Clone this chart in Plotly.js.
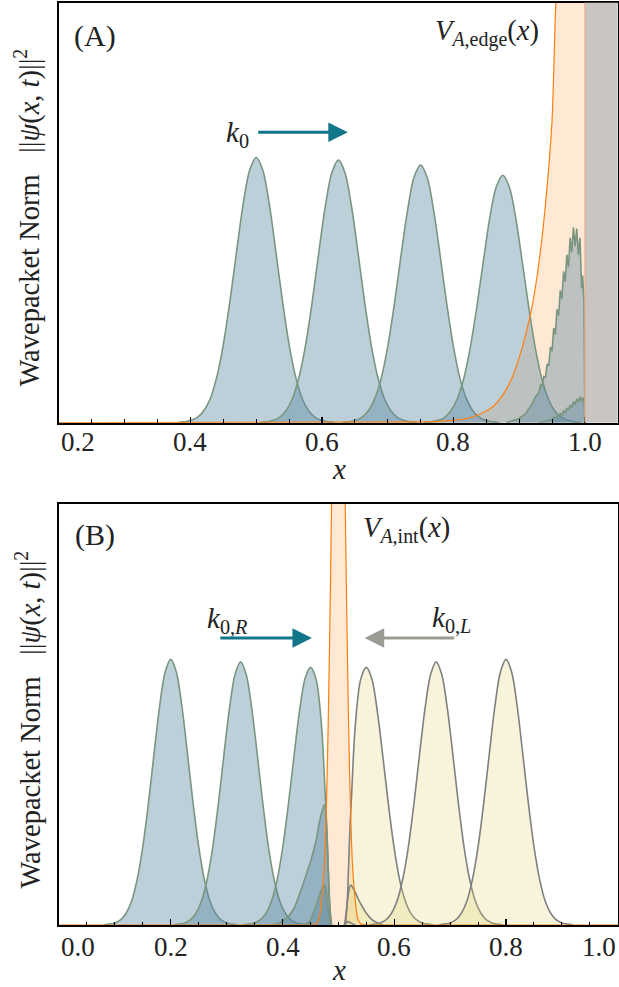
<!DOCTYPE html>
<html>
<head>
<meta charset="utf-8">
<script src="https://cdn.plot.ly/plotly-3.0.1.min.js"></script>
<style>html,body{margin:0;padding:0;background:#fff;}#chart{width:619px;height:987px;}</style>
</head>
<body>
<div id="chart"></div>
<script>
// ---------- Panel A data (x, |psi|^2 in plot-height units) ----------
const a1_x = [0.38,0.39,0.40,0.41,0.42,0.43,0.44,0.45,0.46,0.47,0.48,0.49,0.50,0.51,0.52,0.53,0.54,0.55,0.56,0.57,0.58,0.59,0.60,0.61,0.62];
const a1_y = [0,0.002,0.005,0.012,0.028,0.057,0.109,0.186,0.289,0.406,0.519,0.601,0.631,0.601,0.519,0.406,0.289,0.186,0.109,0.057,0.028,0.012,0.005,0.002,0];
const a2_x = [0.505,0.515,0.525,0.535,0.545,0.555,0.565,0.575,0.585,0.595,0.605,0.615,0.625,0.635,0.645,0.655,0.665,0.675,0.685,0.695,0.705,0.715,0.725,0.735,0.745];
const a2_y = [0,0.002,0.005,0.012,0.028,0.057,0.108,0.184,0.286,0.403,0.514,0.595,0.625,0.595,0.514,0.403,0.286,0.184,0.108,0.057,0.028,0.012,0.005,0.002,0];
const a3_x = [0.63,0.64,0.65,0.66,0.67,0.68,0.69,0.70,0.71,0.72,0.73,0.74,0.75,0.76,0.77,0.78,0.79,0.80,0.81,0.82,0.83,0.84,0.85,0.86,0.87];
const a3_y = [0,0.002,0.005,0.012,0.027,0.056,0.105,0.181,0.281,0.395,0.504,0.584,0.613,0.584,0.504,0.395,0.281,0.181,0.105,0.056,0.027,0.012,0.005,0.002,0];
const a4_x = [0.755,0.765,0.775,0.785,0.795,0.805,0.815,0.825,0.835,0.845,0.855,0.865,0.875,0.885,0.895,0.905,0.915,0.925,0.935,0.945,0.955,0.965,0.975,0.985,0.995];
const a4_y = [0,0.002,0.005,0.011,0.026,0.054,0.101,0.174,0.270,0.379,0.485,0.561,0.589,0.561,0.485,0.379,0.270,0.174,0.101,0.054,0.026,0.012,0.006,0.002,0];
// reflected packet at the wall (oscillating)
const a5_x = [0.880,0.890,0.900,0.905,0.910,0.915,0.920,0.925,0.930,0.9325,0.935,0.9375,0.940,0.9425,0.945,0.9475,0.950,0.9525,0.955,0.9575,0.960,0.9625,0.965,0.9675,0.970,0.9725,0.975,0.9775,0.980,0.9825,0.985,0.9875,0.990,0.9925,0.995,0.9965,0.9985,1.000];
const a5_y = [0,0.005,0.010,0.016,0.022,0.034,0.045,0.062,0.072,0.090,0.088,0.110,0.108,0.140,0.135,0.180,0.170,0.225,0.210,0.270,0.255,0.315,0.295,0.360,0.335,0.400,0.370,0.440,0.405,0.465,0.420,0.462,0.400,0.440,0.320,0.350,0.290,0];
const a6_x = [0.930,0.940,0.945,0.950,0.9525,0.955,0.9575,0.960,0.9625,0.965,0.9675,0.970,0.9725,0.975,0.9775,0.980,0.9825,0.985,0.9875,0.990,0.9925,0.995,0.9975,0.999,1.000];
const a6_y = [0,0.003,0.006,0.008,0.013,0.011,0.017,0.014,0.022,0.019,0.028,0.024,0.035,0.030,0.042,0.036,0.050,0.043,0.057,0.048,0.062,0.052,0.060,0.040,0];
// edge potential V_A,edge(x)
const vA_x = [0.20,0.76,0.78,0.80,0.82,0.84,0.86,0.87,0.88,0.89,0.90,0.91,0.92,0.93,0.94,0.95,0.955,0.96,0.97,0.98,1.00];
const vA_y = [0,0.002,0.003,0.006,0.010,0.020,0.038,0.055,0.078,0.110,0.155,0.210,0.280,0.380,0.520,0.720,0.970,1.150,1.450,2.000,3.800];

// ---------- Panel B data ----------
const b1_x = [0.08,0.09,0.10,0.11,0.12,0.13,0.14,0.15,0.16,0.17,0.18,0.19,0.20,0.21,0.22,0.23,0.24,0.25,0.26,0.27,0.28,0.29,0.30,0.31,0.32];
const b1_y = [0,0.002,0.005,0.012,0.028,0.057,0.109,0.186,0.289,0.406,0.519,0.601,0.631,0.601,0.519,0.406,0.289,0.186,0.109,0.057,0.028,0.012,0.005,0.002,0];
const b2_x = [0.205,0.215,0.225,0.235,0.245,0.255,0.265,0.275,0.285,0.295,0.305,0.315,0.325,0.335,0.345,0.355,0.365,0.375,0.385,0.395,0.405,0.415,0.425,0.435,0.445];
const b2_y = [0,0.002,0.005,0.012,0.028,0.057,0.108,0.184,0.286,0.403,0.514,0.595,0.625,0.595,0.514,0.403,0.286,0.184,0.108,0.057,0.028,0.012,0.005,0.002,0];
const b3_x = [0.33,0.34,0.35,0.36,0.37,0.38,0.39,0.40,0.41,0.42,0.43,0.44,0.45,0.46,0.47,0.476,0.479,0.482,0.484,0.487];
const b3_y = [0,0.002,0.005,0.012,0.027,0.056,0.105,0.181,0.281,0.395,0.504,0.584,0.612,0.584,0.470,0.320,0.240,0.130,0.060,0];
const b4_x = [0.38,0.39,0.40,0.41,0.42,0.43,0.44,0.45,0.46,0.467,0.4745,0.478,0.4805,0.483,0.4855,0.488];
const b4_y = [0,0.003,0.010,0.020,0.038,0.072,0.110,0.150,0.200,0.250,0.285,0.250,0.180,0.090,0.030,0];
const b5_x = [0.44,0.45,0.455,0.46,0.465,0.47,0.4757,0.479,0.482,0.485,0.487];
const b5_y = [0,0.012,0.028,0.045,0.065,0.085,0.095,0.070,0.035,0.008,0];
const y1_x = [0.513,0.516,0.518,0.521,0.524,0.53,0.54,0.55,0.56,0.57,0.58,0.59,0.60,0.61,0.62,0.63,0.64,0.65,0.66,0.67];
const y1_y = [0,0.060,0.130,0.240,0.320,0.470,0.584,0.612,0.584,0.504,0.395,0.281,0.181,0.105,0.056,0.027,0.012,0.005,0.002,0];
const y2_x = [0.555,0.565,0.575,0.585,0.595,0.605,0.615,0.625,0.635,0.645,0.655,0.665,0.675,0.685,0.695,0.705,0.715,0.725,0.735,0.745,0.755,0.765,0.775,0.785,0.795];
const y2_y = [0,0.002,0.005,0.012,0.028,0.057,0.108,0.184,0.286,0.403,0.514,0.595,0.625,0.595,0.514,0.403,0.286,0.184,0.108,0.057,0.028,0.012,0.005,0.002,0];
const y3_x = [0.68,0.69,0.70,0.71,0.72,0.73,0.74,0.75,0.76,0.77,0.78,0.79,0.80,0.81,0.82,0.83,0.84,0.85,0.86,0.87,0.88,0.89,0.90,0.91,0.92];
const y3_y = [0,0.002,0.005,0.012,0.028,0.057,0.109,0.186,0.289,0.406,0.519,0.601,0.631,0.601,0.519,0.406,0.289,0.186,0.109,0.057,0.028,0.012,0.005,0.002,0];
const y4_x = [0.511,0.514,0.517,0.52,0.5224,0.526,0.53,0.535,0.54,0.55,0.56,0.57,0.58];
const y4_y = [0,0.030,0.065,0.090,0.095,0.088,0.078,0.063,0.050,0.028,0.013,0.005,0];
const y5_x = [0.51,0.514,0.5175,0.521,0.525,0.53];
const y5_y = [0,0.005,0.008,0.006,0.003,0];
// interior barrier V_A,int(x)
const vB_x = [0.00,0.44,0.455,0.46,0.465,0.47,0.475,0.478,0.48,0.482,0.485,0.4878,0.49,0.495,0.50,0.505,0.51,0.5122,0.515,0.518,0.52,0.522,0.525,0.53,0.535,0.54,0.545,0.56,1.00];
const vB_y = [0,0,0.0005,0.003,0.013,0.060,0.148,0.260,0.365,0.495,0.737,1.000,1.218,1.646,1.820,1.646,1.218,1.000,0.737,0.495,0.365,0.260,0.148,0.060,0.013,0.003,0.0005,0,0];

// tick values / labels
const tickA = [0.2,0.4,0.6,0.8,1.0];
const tickB = [0.0,0.2,0.4,0.6,0.8,1.0];

// ---------- styling ----------
const FONT = 'Liberation Serif';
const TXT = '#222';
const blueFill = 'rgba(89,136,161,0.40)';
const greenLine = 'rgb(122,150,128)';
const yelFill = 'rgba(225,210,110,0.25)';
const grayLine = 'rgb(128,128,128)';
const orange = 'rgb(255,127,14)';

function pk(x, y, xa, ya, fill, line, shape) {
  return {x: x, y: y, xaxis: xa, yaxis: ya, type: 'scatter', mode: 'lines',
    fill: 'tozeroy', fillcolor: fill,
    line: {color: line, width: 1.6, shape: shape || 'spline', smoothing: 0.9},
    hoverinfo: 'skip'};
}
function pot(x, y, xa, ya, alpha, withLine) {
  return {x: x, y: y, xaxis: xa, yaxis: ya, type: 'scatter', mode: 'lines',
    fill: withLine ? 'none' : 'tozeroy', fillcolor: 'rgba(255,127,14,' + alpha + ')',
    line: {color: withLine ? orange : 'rgba(0,0,0,0)', width: withLine ? 1.2 : 0, shape: 'spline', smoothing: 0.7},
    hoverinfo: 'skip'};
}

const data = [
  pot(vA_x, vA_y, 'x', 'y', 0.18, false),
  pk(a1_x, a1_y, 'x', 'y', blueFill, greenLine),
  pk(a2_x, a2_y, 'x', 'y', blueFill, greenLine),
  pk(a3_x, a3_y, 'x', 'y', blueFill, greenLine),
  pk(a4_x, a4_y, 'x', 'y', blueFill, greenLine),
  pk(a5_x, a5_y, 'x', 'y', blueFill, greenLine, 'linear'),
  pk(a6_x, a6_y, 'x', 'y', blueFill, greenLine, 'linear'),
  pot(vA_x, vA_y, 'x', 'y', 0, true),

  pot(vB_x, vB_y, 'x2', 'y2', 0.18, false),
  pk(b1_x, b1_y, 'x2', 'y2', blueFill, greenLine),
  pk(b2_x, b2_y, 'x2', 'y2', blueFill, greenLine),
  pk(b3_x, b3_y, 'x2', 'y2', blueFill, greenLine),
  pk(b4_x, b4_y, 'x2', 'y2', blueFill, greenLine),
  pk(b5_x, b5_y, 'x2', 'y2', blueFill, greenLine),
  pk(y1_x, y1_y, 'x2', 'y2', yelFill, grayLine),
  pk(y2_x, y2_y, 'x2', 'y2', yelFill, grayLine),
  pk(y3_x, y3_y, 'x2', 'y2', yelFill, grayLine),
  pk(y4_x, y4_y, 'x2', 'y2', yelFill, grayLine),
  pk(y5_x, y5_y, 'x2', 'y2', yelFill, grayLine),
  pot(vB_x, vB_y, 'x2', 'y2', 0, true)
];

const W = 619, H = 987;
const px = v => v / W;
const py = v => 1 - v / H;

function xaxis(range, tv, dom, anchor) {
  return {domain: dom, range: range, anchor: anchor,
    tickvals: tv, showticklabels: false,
    ticks: 'inside', ticklen: 6, tickwidth: 1.4, tickcolor: '#000',
    minor: {ticks: 'inside', ticklen: 3.5, tickwidth: 1, tickcolor: '#000', dtick: 0.05, tick0: 0, showgrid: false},
    showgrid: false, zeroline: false, showline: true, mirror: true, linecolor: '#000', linewidth: 2, fixedrange: true};
}
function yaxis(dom, anchor) {
  return {domain: dom, range: [0, 1], anchor: anchor, showticklabels: false, ticks: '',
    showgrid: false, zeroline: false, showline: true, mirror: true, linecolor: '#000', linewidth: 2, fixedrange: true};
}

function txt(text, x, y, size, extra) {
  return Object.assign({text: text, xref: 'paper', yref: 'paper', x: x, y: y,
    xanchor: 'center', yanchor: 'middle', showarrow: false, borderpad: 0,
    font: {family: FONT, size: size, color: TXT}}, extra || {});
}
function arrow(xr, yr, x0, x1, y, color) {
  return {xref: xr, yref: yr, axref: xr, ayref: yr, x: x1, y: y, ax: x0, ay: y,
    text: '', showarrow: true, arrowhead: 2, arrowsize: 1.3, arrowwidth: 3, arrowcolor: color, standoff: 0, startstandoff: 0};
}
// tick labels as text; the labels at the frame edges are pushed inward
function tickLabels(vals, xr, range, ypix) {
  return vals.map(v => {
    let anchor = 'center', shift = 0;
    if (Math.abs(v - range[0]) < 1e-9) { anchor = 'left'; shift = 1; }
    else if (Math.abs(v - range[1]) < 1e-9) { anchor = 'right'; shift = -1; }
    return txt(v.toFixed(1), 0, py(ypix), 27, {xref: xr, x: v, xanchor: anchor, xshift: shift});
  });
}

const yTitle = 'Wavepacket Norm\u00a0\u00a0\u00a0||<i>\u03c8</i>(<i>x</i>,\u00a0<i>t</i>)||<sup>2</sup>';
const rangeA = [0.2, 1.05], rangeB = [0, 1.0];

const layout = {
  width: W, height: H, margin: {l: 0, r: 0, t: 0, b: 0},
  paper_bgcolor: '#fff', plot_bgcolor: '#fff', showlegend: false, hovermode: false,
  font: {family: FONT, color: TXT},
  xaxis: xaxis(rangeA, tickA, [px(59), px(617.8)], 'y'),
  yaxis: yaxis([py(422.7), py(2.5)], 'x'),
  xaxis2: xaxis(rangeB, tickB, [px(59), px(617.8)], 'y2'),
  yaxis2: yaxis([py(925), py(504)], 'x2'),
  shapes: [
    {type: 'rect', xref: 'x', yref: 'y', x0: 1.0, x1: 1.05, y0: 0, y1: 1, fillcolor: 'rgb(201,197,195)', line: {width: 0}, layer: 'above'},
    {type: 'line', xref: 'x', yref: 'y', x0: 1.0, x1: 1.0, y0: 0, y1: 1, line: {color: 'rgb(232,170,135)', width: 1}, layer: 'above'}
  ],
  annotations: [].concat(
    tickLabels(tickA, 'x', rangeA, 442),
    tickLabels(tickB, 'x2', rangeB, 947),
    [
    // axis titles
    txt('<i>x</i>', px(338.5), py(469), 29),
    txt('<i>x</i>', px(338.5), py(970), 29),
    txt(yTitle, px(28.5), py(218), 28.5, {textangle: -90}),
    txt(yTitle, px(28.5), py(720), 28.5, {textangle: -90}),
    // panel labels
    txt('(A)', px(94.5), py(36.5), 30),
    txt('(B)', px(94.5), py(534.5), 30),
    txt('<i>V</i><sub><i>A</i>,edge</sub>(<i>x</i>)', px(486.5), py(33), 28.5),
    txt('<i>V</i><sub><i>A</i>,int</sub>(<i>x</i>)', px(406.5), py(529), 28.5),
    txt('<i>k</i><sub>0</sub>', px(237), py(134), 29),
    txt('<i>k</i><sub>0,<i>R</i></sub>', px(227), py(620), 29),
    txt('<i>k</i><sub>0,<i>L</i></sub>', px(451), py(619), 29),
    // arrows
    arrow('x', 'y', 0.5008, 0.6393, 0.691, 'rgb(18,118,138)'),
    arrow('x2', 'y2', 0.286, 0.4526, 0.682, 'rgb(18,118,138)'),
    arrow('x2', 'y2', 0.710, 0.547, 0.682, 'rgb(155,155,148)')
    ])
};

Plotly.newPlot('chart', data, layout, {staticPlot: true, displayModeBar: false});
</script>
</body>
</html>
